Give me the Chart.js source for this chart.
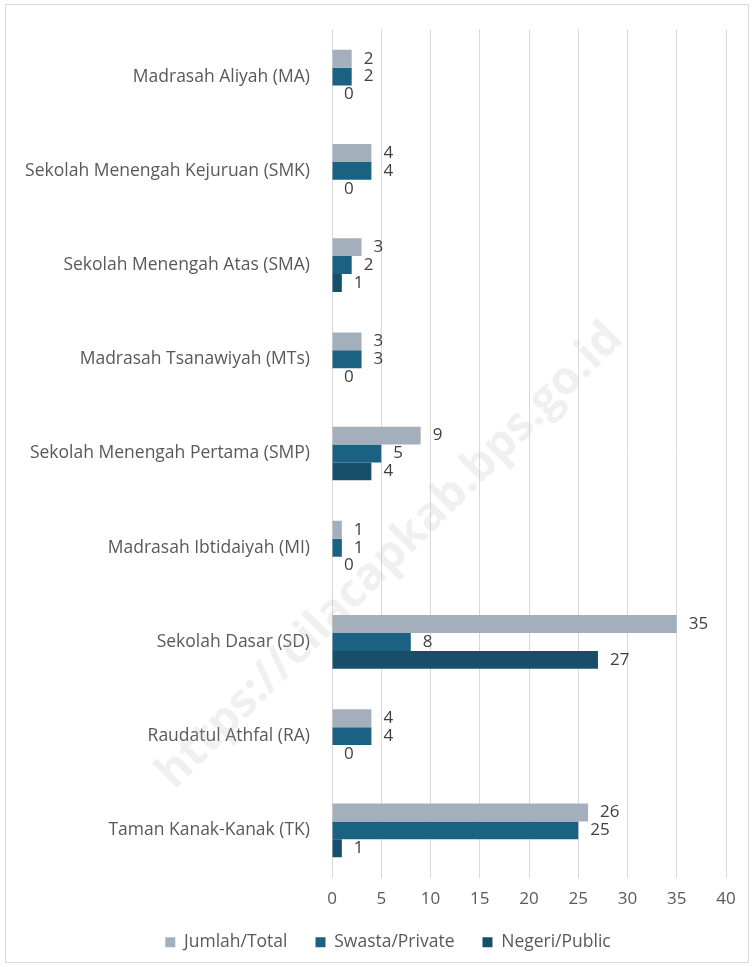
<!DOCTYPE html>
<html>
<head>
<meta charset="utf-8">
<script src="https://cdn.jsdelivr.net/npm/chart.js@4"></script>
<style>
  body { margin: 0; background: #fff; }
  #box { position: absolute; left: 5px; top: 4px; width: 742px; height: 957px; border: 1px solid #d9d9d9; }
  canvas { display: block; }
</style>
</head>
<body>
<div id="box"><canvas id="barChart" width="742" height="957"></canvas></div>
<script>
const categories = [
    "Madrasah Aliyah (MA)",
    "Sekolah Menengah Kejuruan (SMK)",
    "Sekolah Menengah Atas (SMA)",
    "Madrasah Tsanawiyah (MTs)",
    "Sekolah Menengah Pertama (SMP)",
    "Madrasah Ibtidaiyah (MI)",
    "Sekolah Dasar (SD)",
    "Raudatul Athfal (RA)",
    "Taman Kanak-Kanak (TK)"
];
const jumlah = [2, 4, 3, 3, 9, 1, 35, 4, 26];
const swasta = [2, 4, 2, 3, 5, 1, 8, 4, 25];
const negeri = [0, 0, 1, 0, 4, 0, 27, 0, 1];
const xTicks = [0, 5, 10, 15, 20, 25, 30, 35, 40];

const FONT = "'Open Sans', 'Liberation Sans', sans-serif";

// valeurs au bout des barres
const valueLabels = {
    id: "valueLabels",
    afterDatasetsDraw(chart) {
        const ctx = chart.ctx;
        ctx.save();
        ctx.font = "17px " + FONT;
        ctx.fillStyle = "#404040";
        ctx.textBaseline = "middle";
        ctx.textAlign = "left";
        chart.data.datasets.forEach((ds, i) => {
            chart.getDatasetMeta(i).data.forEach((bar, j) => {
                ctx.fillText(String(ds.data[j]), bar.x + 12, bar.y);
            });
        });
        ctx.restore();
    }
};

// légende un peu décalée vers la droite, comme dans l'original
const legendShift = {
    id: "legendShift",
    afterLayout(chart) {
        if (chart.legend) {
            chart.legend.left += 22;
            chart.legend.right += 22;
        }
    }
};

const watermark = {
    id: "watermark",
    afterDraw(chart) {
        const ctx = chart.ctx;
        ctx.save();
        ctx.translate(384, 551);
        ctx.rotate(-Math.PI / 4);
        ctx.font = "bold 46px " + FONT;
        ctx.fillStyle = "rgba(180, 180, 180, 0.2)";
        ctx.textAlign = "center";
        ctx.textBaseline = "middle";
        ctx.fillText("https://cilacapkab.bps.go.id", 0, 0);
        ctx.restore();
    }
};

new Chart(document.getElementById("barChart").getContext("2d"), {
    type: "bar",
    data: {
        labels: categories,
        datasets: [
            { label: "Jumlah/Total", data: jumlah, backgroundColor: "#a3b0bb" },
            { label: "Swasta/Private", data: swasta, backgroundColor: "#1b6282" },
            { label: "Negeri/Public", data: negeri, backgroundColor: "#174e6a" }
        ]
    },
    options: {
        indexAxis: "y",
        responsive: false,
        animation: false,
        categoryPercentage: 0.57,
        barPercentage: 1,
        layout: { padding: { top: 19, right: 22, left: 0, bottom: 1 } },
        plugins: {
            legend: {
                position: "bottom",
                labels: {
                    font: { family: FONT, size: 17.5 },
                    color: "#595959",
                    boxWidth: 10,
                    boxHeight: 10,
                    padding: 28
                }
            },
            tooltip: { enabled: false }
        },
        scales: {
            x: {
                min: 0,
                max: 40,
                afterBuildTicks: (s) => { s.ticks = xTicks.map(v => ({ value: v })); },
                afterFit: (s) => { s.height = 28; },
                grid: { color: "#d9d9d9", drawTicks: false },
                border: { display: false },
                ticks: { font: { family: FONT, size: 17 }, color: "#595959", padding: 11 }
            },
            y: {
                afterFit: (s) => { s.width = 326; },
                grid: { display: false },
                border: { display: false },
                ticks: { font: { family: FONT, size: 17.5 }, color: "#595959", padding: 14 }
            }
        }
    },
    plugins: [valueLabels, legendShift, watermark]
});
</script>
</body>
</html>
